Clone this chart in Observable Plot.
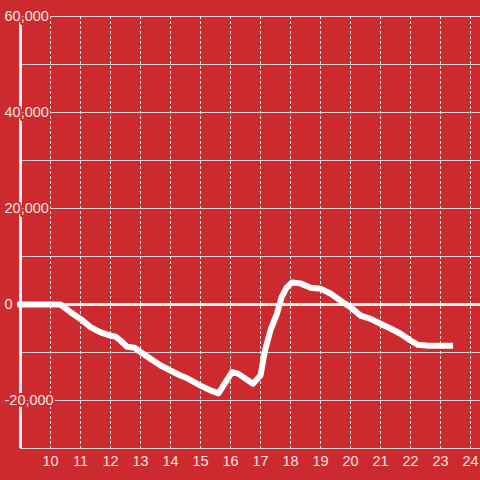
<!DOCTYPE html>
<html><head><meta charset="utf-8">
<script src="https://cdn.jsdelivr.net/npm/d3@7"></script>
<script src="https://cdn.jsdelivr.net/npm/@observablehq/plot@0.6"></script>
<style>html,body{margin:0;padding:0;background:#cd2a2f;overflow:hidden;}</style>
</head><body><div id="chart"></div>
<script>
const hours = [8.9, 10.33, 10.67, 11, 11.33, 11.67, 12, 12.17, 12.33, 12.55, 12.8, 13, 13.33, 13.67, 14, 14.33, 14.5, 15, 15.33, 15.6, 16.05, 16.25, 16.75, 17, 17.15, 17.33, 17.55, 17.7, 17.87, 18.05, 18.33, 18.67, 19, 19.33, 19.67, 20, 20.33, 20.67, 21, 21.33, 21.67, 22, 22.25, 22.6, 23.42];
const values = [0, 0, -1600, -3000, -4700, -5800, -6500, -6700, -7500, -8800, -9000, -9900, -11300, -12700, -13750, -14800, -15200, -16900, -17900, -18500, -14100, -14400, -16500, -14800, -9600, -5400, -1900, 1500, 3500, 4600, 4400, 3500, 3300, 2300, 800, -550, -2300, -3000, -4000, -5000, -6100, -7500, -8400, -8600, -8600];
const yTicks = [-20000, 0, 20000, 40000, 60000];
const yTickLabels = ["-20,000", "0", "20,000", "40,000", "60,000"];
const yGrid = [-30000, -20000, -10000, 0, 10000, 20000, 30000, 40000, 50000, 60000];
const xTicks = [10, 11, 12, 13, 14, 15, 16, 17, 18, 19, 20, 21, 22, 23, 24];

const bg = "#cd2a2f";
const txt = "#f6e2e2";
const data = hours.map((h, i) => ({h, v: values[i]}));
const yLab = yTicks.map((v, i) => ({v, t: yTickLabels[i]}));

const chart = Plot.plot({
  width: 480, height: 480,
  marginLeft: 20, marginRight: 0, marginTop: 16, marginBottom: 32,
  x: {domain: [9, 24.3333], axis: null},
  y: {domain: [-30000, 60000], axis: null},
  style: {background: bg, fontFamily: "'Liberation Sans', Arial, sans-serif"},
  marks: [
    Plot.ruleY(yGrid, {stroke: "#d6d6d6", strokeWidth: 1}),
    Plot.ruleX(xTicks, {stroke: "#e6e6e6", strokeWidth: 1, strokeDasharray: "3,2"}),
    Plot.ruleY([0], {x1: 8.9, x2: 24.3333, stroke: "#f3f0f0", strokeWidth: 3}),
    Plot.ruleX([9], {y1: -30000, y2: 60000, stroke: "#f3f0f0", strokeWidth: 3}),
    Plot.line(data, {x: "h", y: "v", stroke: "#ffffff", strokeWidth: 6, strokeLinejoin: "round", strokeLinecap: "butt"}),
    Plot.text(yLab, {x: () => 9, y: "v", text: "t", textAnchor: "start", dx: -16, fill: txt, stroke: bg, strokeWidth: 4, fontSize: 14.5}),
    Plot.text(xTicks, {x: d => d, y: () => -30000, dy: 13, text: d => String(d), fill: txt, fontSize: 14.5})
  ]
});
document.getElementById("chart").appendChild(chart);
</script>
</body></html>
